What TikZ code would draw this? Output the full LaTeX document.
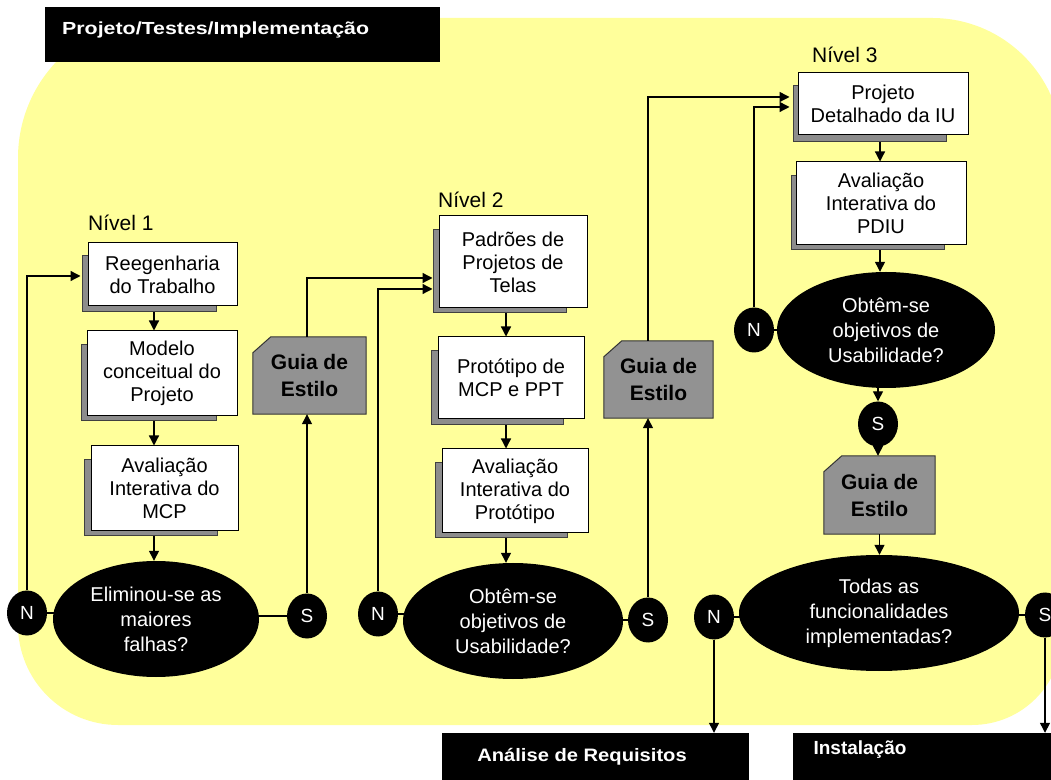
\documentclass[tikz,border=0pt]{standalone}
\usepackage{fontspec}
\usepackage{graphicx}
\setmainfont{Liberation Sans}
\usetikzlibrary{shapes.geometric,shadows,arrows.meta,calc}
\pgfdeclarelayer{bg}
\pgfdeclarelayer{edges}
\pgfsetlayers{bg,edges,main}
\definecolor{yel}{RGB}{255,255,155}
\definecolor{shd}{RGB}{140,140,140}
\definecolor{guia}{RGB}{146,146,146}
\begin{document}
\begin{tikzpicture}[x=1pt,y=1pt,
  stepbox/.style={draw=black, line width=1pt, fill=white, inner sep=0pt, align=center,
    font=\fontsize{20}{23}\selectfont,
    general shadow={fill=shd, draw=black!75, line width=0.8pt, shadow scale=0.9, shadow xshift=-15pt, shadow yshift=-10pt}},
  guiabox/.style={draw=none, inner sep=0pt, align=center, font=\fontsize{21}{27}\selectfont\bfseries},
  guiafill/.style={draw=black!80, line width=1pt, fill=guia},
  decision/.style={ellipse, fill=black, text=white, inner sep=0pt, align=center, font=\fontsize{20}{25}\selectfont},
  yn/.style={ellipse, fill=black, text=white, inner sep=0pt, minimum width=40pt, minimum height=45pt, font=\fontsize{19}{20}\selectfont},
  lvl/.style={inner sep=0pt, font=\fontsize{21}{24}\selectfont, anchor=west},
  blkbox/.style={fill=black, draw=none, inner sep=0pt},
  btext/.style={text=white, inner sep=0pt, font=\fontsize{18}{20}\selectfont\bfseries},
  arr/.style={-{Triangle[length=10pt,width=10pt]}, line width=1.3pt},
  ln/.style={line width=1.3pt}
]
\useasboundingbox (0,0) rectangle (1051,779);
\begin{pgfonlayer}{bg}
\fill[yel] (18,621) arc[start angle=180,end angle=90,radius=140] -- (932,761)
  arc[start angle=90,end angle=0,radius=130] -- (1062,144)
  arc[start angle=0,end angle=-90,radius=90] -- (118,54)
  arc[start angle=270,end angle=180,radius=100] -- cycle;
\end{pgfonlayer}

% header
\node[blkbox, minimum width=395pt, minimum height=55pt] (hdr) at (242.5,744.5) {};
\node[btext, anchor=west, font=\fontsize{17.5}{20}\selectfont\bfseries] (hdrT) at (62,749) {\scalebox{1.22}[1]{Projeto/Testes/Implementação}};

% level labels
\node[lvl] (l1) at (88,556) {Nível 1};
\node[lvl] (l2) at (438,579) {Nível 2};
\node[lvl] (l3) at (812,724) {Nível 3};

% level 1
\node[stepbox, minimum width=149pt, minimum height=63pt] (b1) at (162.5,504.5) {Reegenharia\\do Trabalho};
\node[stepbox, minimum width=150pt, minimum height=85pt] (b2) at (162,405.5) {Modelo\\conceitual do\\Projeto};
\node[stepbox, minimum width=147pt, minimum height=85pt] (b3) at (164.5,290.5) {Avaliação\\Interativa do\\MCP};
\node[decision, minimum width=206pt, minimum height=116pt] (e1) at (156,160) {Eliminou-se as\\maiores\\falhas?};
\node[yn] (n1) at (27,166) {N};
\node[yn] (s1) at (307,163) {S};
\node[guiabox, minimum width=113pt, minimum height=77pt] (g1) at (309.5,403.5) {Guia de\\Estilo};

% level 2
\node[stepbox, minimum width=148pt, minimum height=92pt] (b4) at (513,517) {Padrões de\\Projetos de\\Telas};
\node[stepbox, minimum width=146pt, minimum height=82pt] (b5) at (511,401) {Protótipo de\\MCP e PPT};
\node[stepbox, minimum width=146pt, minimum height=84pt] (b6) at (515,288) {Avaliação\\Interativa do\\Protótipo};
\node[decision, minimum width=220pt, minimum height=116pt] (e2) at (513,158) {Obtêm-se\\objetivos de\\Usabilidade?};
\node[yn] (n2) at (378,165) {N};
\node[yn] (s2) at (648,159) {S};
\node[guiabox, minimum width=109pt, minimum height=77pt] (g2) at (658.5,399.5) {Guia de\\Estilo};

% level 3
\node[stepbox, minimum width=170pt, minimum height=62pt] (b7) at (883,675) {Projeto\\Detalhado da IU};
\node[stepbox, minimum width=170pt, minimum height=83pt] (b8) at (881,575.5) {Avaliação\\Interativa do\\PDIU};
\node[decision, minimum width=218pt, minimum height=116pt] (e3) at (886,449) {Obtêm-se\\objetivos de\\Usabilidade?};
\node[yn] (n3) at (754,449) {N};
\node[yn] (s3) at (878,355) {S};
\node[guiabox, minimum width=111pt, minimum height=78pt] (g3) at (879.5,284) {Guia de\\Estilo};
\node[decision, minimum width=280pt, minimum height=116pt] (e4) at (879,166) {Todas as\\funcionalidades\\implementadas?};
\node[yn] (n4) at (714,162) {N};
\node[yn] (s4) at (1045,164) {S};

% bottom boxes
\node[blkbox, minimum width=307pt, minimum height=50pt] (ana) at (595.5,21) {};
\node[btext] (anaT) at (582,22) {\scalebox{1.12}[1]{Análise de Requisitos}};
\node[blkbox, minimum width=267pt, minimum height=50pt] (inst) at (926.5,21) {};
\node[btext, font=\fontsize{19}{21}\selectfont\bfseries] (instT) at (860,29) {Instalação};

\coordinate (c1) at (154,0);
\coordinate (c2) at (506,0);
\coordinate (c3) at (880,0);

\begin{pgfonlayer}{edges}
\foreach \g in {g1,g2,g3}
  \draw[guiafill] (\g.south west) -- ($(\g.north west)+(0,-16)$) -- ($(\g.north west)+(18,0)$) -- (\g.north east) -- (\g.south east) -- cycle;
% level 1
\draw[arr] (c1 |- b1.south) -- (c1 |- b2.north);
\draw[arr] (c1 |- b2.south) -- (c1 |- b3.north);
\draw[arr] (c1 |- b3.south) -- (c1 |- e1.north);
\draw[ln] (n1.center) -- (n1.center -| e1.center);
\draw[ln] (s1.center) -- (s1.center -| e1.center);
\draw[arr] (n1.north) |- ($(b1.west)+(-7,-1.5)$);
\draw[arr] (s1.north) -- (s1.north |- g1.south);
\draw[arr] (s1.north |- g1.north) |- ($(b4.west)+(-6,-16)$);
% level 2
\draw[arr] (n2.north) |- ($(b4.west)+(-6,-27)$);
\draw[arr] (c2 |- b4.south) -- (c2 |- b5.north);
\draw[arr] (c2 |- b5.south) -- (c2 |- b6.north);
\draw[arr] (c2 |- b6.south) -- (c2 |- e2.north);
\draw[ln] (n2.center) -- (n2.center -| e2.center);
\draw[ln] (s2.center) -- (s2.center -| e2.center);
\draw[arr] (s2.north) -- (s2.north |- g2.south);
\draw[arr] (s2.north |- g2.north) |- ($(b7.west)+(-8,7)$);
% level 3
\draw[arr] (n3.north) |- ($(b7.west)+(-8,-3)$);
\draw[arr] (c3 |- b7.south) -- (c3 |- b8.north);
\draw[arr] (c3 |- b8.south) -- (c3 |- e3.north);
\draw[ln] (n3.center) -- (n3.center -| e3.center);
\draw[arr] (s3.north |- e3.south) -- (s3.north);
\draw[arr] (s3.south) -- (s3.south |- g3.north);
\draw[arr] (g3.south) -- (g3.south |- e4.north);
\draw[ln] (n4.center) -- (n4.center -| e4.center);
\draw[ln] (s4.center) -- (s4.center -| e4.center);
\draw[arr] (n4.south) -- (n4.south |- ana.north);
\draw[arr] (s4.south) -- (s4.south |- inst.north);
\end{pgfonlayer}
\end{tikzpicture}
\end{document}
